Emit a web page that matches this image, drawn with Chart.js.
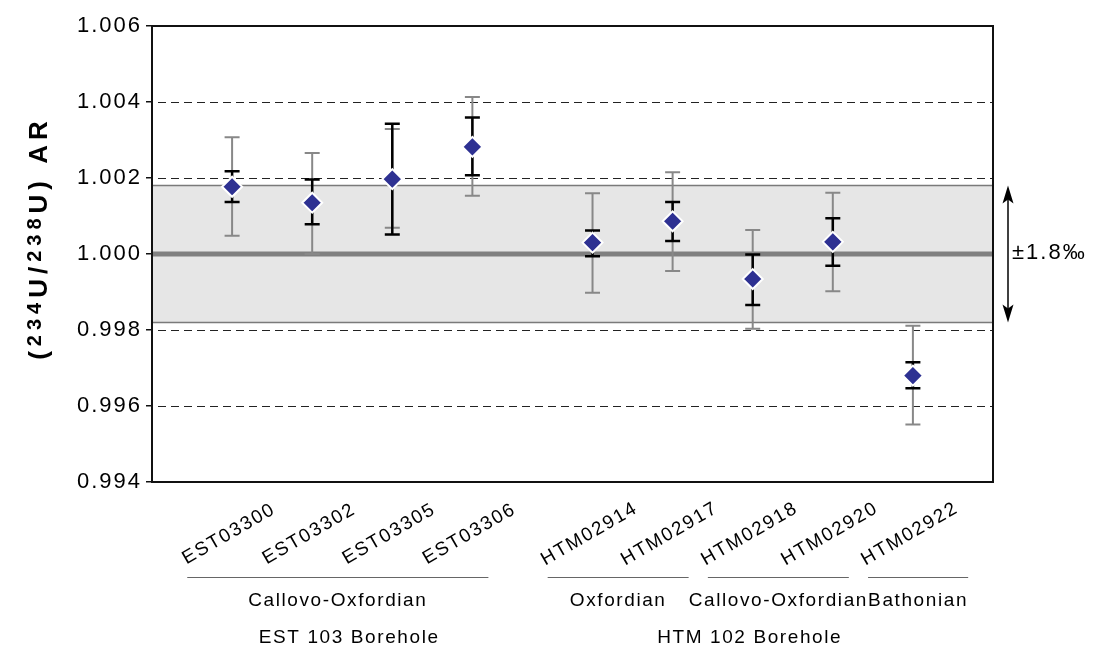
<!DOCTYPE html>
<html><head><meta charset="utf-8">
<script src="https://cdn.jsdelivr.net/npm/chart.js@4"></script>
<style>html,body{margin:0;padding:0;background:#fff}#wrap{width:1103px;height:648px;position:relative}</style>
</head><body><div id="wrap"><canvas id="c"></canvas></div>
<script>
// ---- data ----
const samples    = ['EST03300','EST03302','EST03305','EST03306','HTM02914','HTM02917','HTM02918','HTM02920','HTM02922'];
const boreholes  = ['EST 103 Borehole','EST 103 Borehole','EST 103 Borehole','EST 103 Borehole','HTM 102 Borehole','HTM 102 Borehole','HTM 102 Borehole','HTM 102 Borehole','HTM 102 Borehole'];
const formations = ['Callovo-Oxfordian','Callovo-Oxfordian','Callovo-Oxfordian','Callovo-Oxfordian','Oxfordian','Oxfordian','Callovo-Oxfordian','Callovo-Oxfordian','Bathonian'];
const arValues   = [1.00177, 1.00135, 1.00197, 1.00282, 1.00030, 1.00086, 0.99934, 1.00032, 0.99680];
const innerLow   = [1.00137, 1.00078, 1.00051, 1.00207, 0.99994, 1.00034, 0.99866, 0.99969, 0.99647];
const innerHigh  = [1.00218, 1.00196, 1.00343, 1.00359, 1.00062, 1.00137, 0.99999, 1.00094, 0.99715];
const outerLow   = [1.00048, 1.00000, 1.00069, 1.00153, 0.99898, 0.99955, 0.99803, 0.99902, 0.99551];
const outerHigh  = [1.00307, 1.00266, 1.00329, 1.00413, 1.00160, 1.00215, 1.00063, 1.00161, 0.99811];
const yTicks     = [0.994, 0.996, 0.998, 1.000, 1.002, 1.004, 1.006];
const refValue   = 1.000;
const bandHalf   = 0.0018;
const bandLabel  = '±1.8‰';

// x slot: sequential index, with an extra half-slot gap between boreholes
const xSlots = [];
{ let s = 0; samples.forEach((_, i) => { s += 1; if (i > 0 && boreholes[i] !== boreholes[i-1]) s += 0.5; xSlots.push(s); }); }

const FONT = '"Liberation Sans", Arial, sans-serif';

const decor = {
  id: 'decor',
  beforeDraw(chart) { chart.ctx.letterSpacing = '2px'; },
  beforeDatasetsDraw(chart) {
    const {ctx, chartArea: a, scales: {x, y}} = chart;
    ctx.save();
    // band
    const bt = y.getPixelForValue(refValue + bandHalf), bb = y.getPixelForValue(refValue - bandHalf);
    ctx.fillStyle = '#e6e6e6';
    ctx.fillRect(a.left, bt, a.right - a.left, bb - bt);
    ctx.strokeStyle = '#7a7a7a'; ctx.lineWidth = 1.5;
    ctx.beginPath(); ctx.moveTo(a.left, bt); ctx.lineTo(a.right, bt); ctx.moveTo(a.left, bb); ctx.lineTo(a.right, bb); ctx.stroke();
    // dashed grid
    ctx.strokeStyle = '#222'; ctx.lineWidth = 1; ctx.setLineDash([8, 5]);
    yTicks.forEach(v => {
      if (v === yTicks[0] || v === yTicks[yTicks.length-1] || v === refValue) return;
      const py = Math.round(y.getPixelForValue(v)) + 0.5;
      ctx.beginPath(); ctx.moveTo(a.left + 6, py); ctx.lineTo(a.right, py); ctx.stroke();
    });
    ctx.setLineDash([]);
    // reference line
    const ry = y.getPixelForValue(refValue);
    ctx.strokeStyle = '#808080'; ctx.lineWidth = 5;
    ctx.beginPath(); ctx.moveTo(a.left, ry); ctx.lineTo(a.right, ry); ctx.stroke();
    // error bars
    const bar = (lo, hi, color, w) => {
      ctx.strokeStyle = color; ctx.lineWidth = w;
      samples.forEach((_, i) => {
        const px = x.getPixelForValue(xSlots[i]);
        const p1 = y.getPixelForValue(lo[i]), p2 = y.getPixelForValue(hi[i]);
        ctx.beginPath();
        ctx.moveTo(px, p1); ctx.lineTo(px, p2);
        ctx.moveTo(px - 7.5, p1); ctx.lineTo(px + 7.5, p1);
        ctx.moveTo(px - 7.5, p2); ctx.lineTo(px + 7.5, p2);
        ctx.stroke();
      });
    };
    bar(outerLow, outerHigh, '#888888', 2);
    bar(innerLow, innerHigh, '#000000', 2.5);
    ctx.restore();
  },
  afterDraw(chart) {
    const {ctx, chartArea: a, scales: {x, y}} = chart;
    ctx.save();
    // frame
    ctx.strokeStyle = '#111'; ctx.lineWidth = 2;
    ctx.strokeRect(a.left, a.top, a.right - a.left, a.bottom - a.top);
    // sample labels
    ctx.fillStyle = '#000';
    ctx.letterSpacing = '1.8px';
    ctx.font = '19px ' + FONT;
    ctx.textAlign = 'center'; ctx.textBaseline = 'middle';
    samples.forEach((s, i) => {
      const px = x.getPixelForValue(xSlots[i]);
      ctx.save(); ctx.translate(px - 3, a.bottom + 52); ctx.rotate(-30 * Math.PI / 180);
      ctx.fillText(s, 0, 0); ctx.restore();
    });
    // formation groups
    const step = x.getPixelForValue(2) - x.getPixelForValue(1);
    ctx.letterSpacing = '1.6px';
    ctx.textBaseline = 'alphabetic';
    let i = 0;
    while (i < samples.length) {
      let j = i;
      while (j + 1 < samples.length && formations[j+1] === formations[i] && boreholes[j+1] === boreholes[i]) j++;
      const x0 = x.getPixelForValue(xSlots[i]) - 0.56 * step;
      const x1 = Math.max(x.getPixelForValue(xSlots[j]) + 0.2 * step, x0 + 1.25 * step);
      ctx.strokeStyle = '#666'; ctx.lineWidth = 1;
      ctx.beginPath(); ctx.moveTo(x0, a.bottom + 95.5); ctx.lineTo(x1, a.bottom + 95.5); ctx.stroke();
      ctx.fillText(formations[i], (x0 + x1) / 2, a.bottom + 124);
      i = j + 1;
    }
    // borehole labels
    i = 0;
    while (i < samples.length) {
      let j = i;
      while (j + 1 < samples.length && boreholes[j+1] === boreholes[i]) j++;
      const cx = (x.getPixelForValue(xSlots[i]) + x.getPixelForValue(xSlots[j])) / 2 - 3;
      ctx.fillText(boreholes[i], cx, a.bottom + 161);
      i = j + 1;
    }
    // band arrow
    const ax = a.right + 15;
    const t = y.getPixelForValue(refValue + bandHalf), b = y.getPixelForValue(refValue - bandHalf);
    ctx.strokeStyle = '#000'; ctx.fillStyle = '#000'; ctx.lineWidth = 1.5;
    ctx.beginPath(); ctx.moveTo(ax, t + 10); ctx.lineTo(ax, b - 10); ctx.stroke();
    ctx.beginPath(); ctx.moveTo(ax, t); ctx.lineTo(ax - 5.5, t + 18); ctx.lineTo(ax, t + 14); ctx.lineTo(ax + 5.5, t + 18); ctx.closePath(); ctx.fill();
    ctx.beginPath(); ctx.moveTo(ax, b); ctx.lineTo(ax - 5.5, b - 18); ctx.lineTo(ax, b - 14); ctx.lineTo(ax + 5.5, b - 18); ctx.closePath(); ctx.fill();
    ctx.letterSpacing = '2px';
    ctx.font = '22px ' + FONT; ctx.textAlign = 'left'; ctx.textBaseline = 'middle';
    ctx.fillText(bandLabel, ax + 4, y.getPixelForValue(refValue) - 1);
    // y title with superscripts
    const parts = [['(', 0], ['234', 1], ['U/', 0], ['238', 1], ['U) AR', 0]];
    const big = 'bold 26px ' + FONT, small = 'bold 20px ' + FONT;
    ctx.letterSpacing = '5px';
    let total = 0;
    parts.forEach(p => { ctx.font = p[1] ? small : big; total += ctx.measureText(p[0]).width; });
    ctx.translate(47, 238);
    ctx.rotate(-Math.PI / 2);
    ctx.textAlign = 'left'; ctx.textBaseline = 'alphabetic';
    let cx = -total / 2;
    parts.forEach(p => {
      ctx.font = p[1] ? small : big;
      ctx.fillText(p[0], cx, p[1] ? -6 : 0);
      cx += ctx.measureText(p[0]).width;
    });
    ctx.restore();
  }
};

new Chart(document.getElementById('c'), {
  type: 'scatter',
  data: {
    datasets: [{
      data: samples.map((s, i) => ({x: xSlots[i], y: arValues[i]})),
      pointStyle: 'rectRot',
      radius: 10,
      hoverRadius: 10,
      backgroundColor: '#2E3192',
      borderColor: '#ffffff',
      borderWidth: 2
    }]
  },
  options: {
    responsive: true,
    maintainAspectRatio: false,
    animation: false,
    events: [],
    layout: {padding: {left: 0, right: 110, top: 26, bottom: 166}},
    plugins: {legend: {display: false}, tooltip: {enabled: false}},
    scales: {
      x: {type: 'linear', display: false, min: 0, max: xSlots[xSlots.length-1] + 1},
      y: {
        min: yTicks[0], max: yTicks[yTicks.length-1],
        afterBuildTicks(s) { s.ticks = yTicks.map(v => ({value: v})); },
        afterFit(s) { s.width = 152; },
        border: {display: false},
        grid: {drawOnChartArea: false, drawTicks: true, tickLength: 6, color: '#111', lineWidth: 1.5},
        ticks: {
          color: '#000', padding: 4,
          font: {family: FONT, size: 22},
          callback: v => Number(v).toFixed(3)
        }
      }
    }
  },
  plugins: [decor]
});
</script>
</body></html>
